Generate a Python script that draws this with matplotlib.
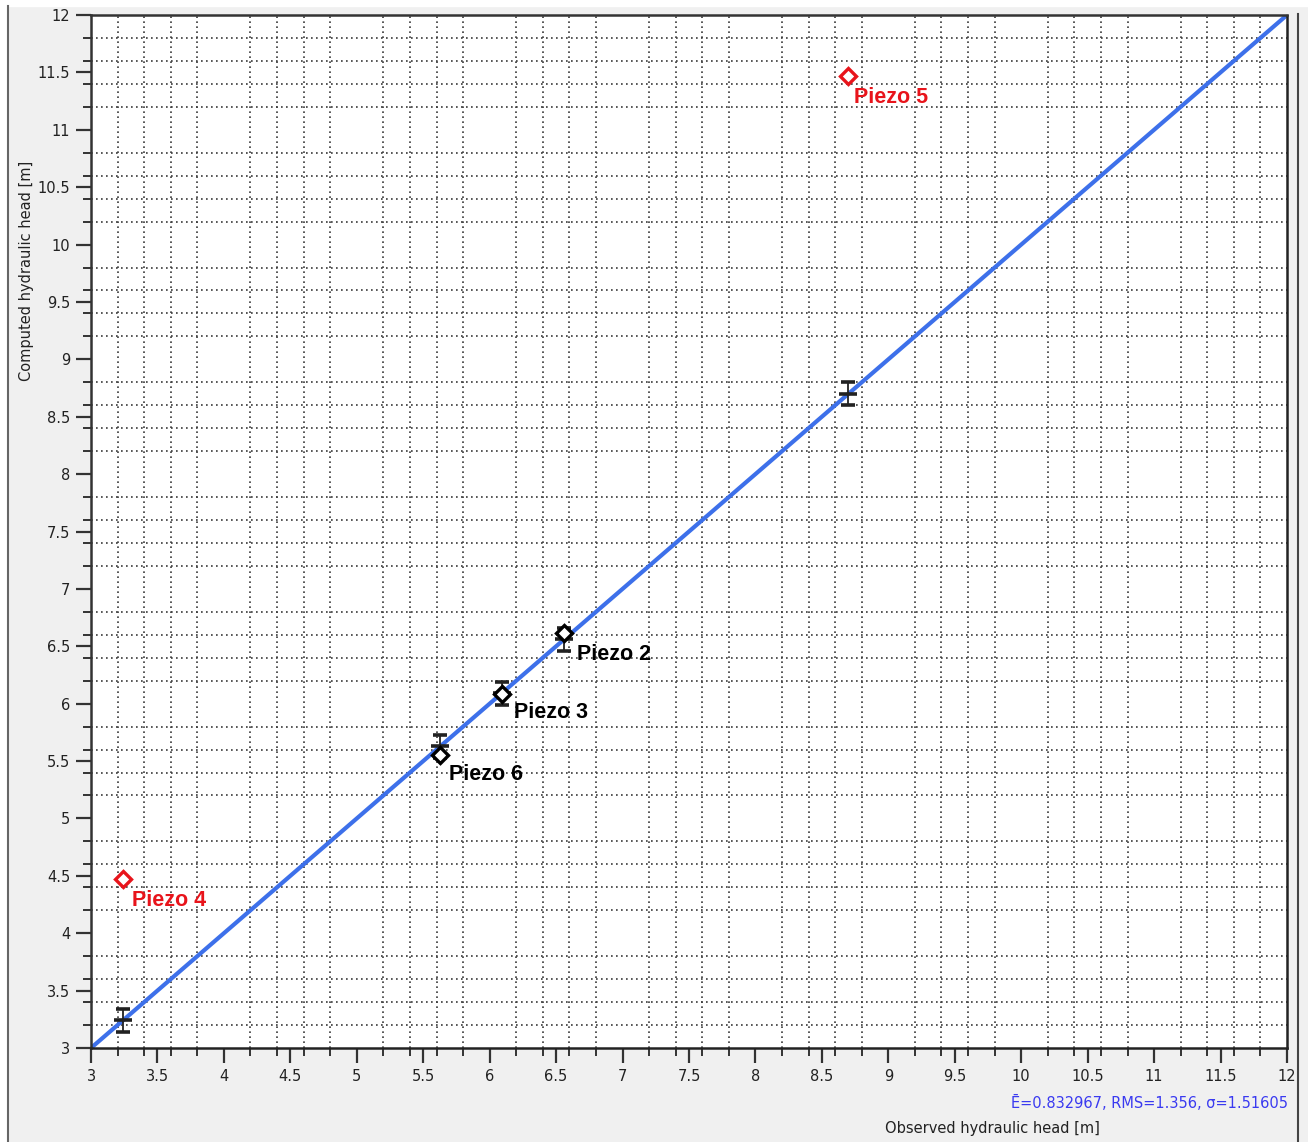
import numpy as np
import matplotlib
matplotlib.use('Agg')
import matplotlib.pyplot as plt
from matplotlib.patches import Rectangle
from matplotlib.lines import Line2D

# observed values with measurement error bars (sit on the 1:1 line)
obs_x = [3.24, 5.63, 6.09, 6.56, 8.70]
obs_err = [0.1, 0.1, 0.1, 0.1, 0.1]

# computed heads per piezometer
piezo_names = ['Piezo 2', 'Piezo 3', 'Piezo 6', 'Piezo 5', 'Piezo 4']
piezo_obs = [6.56, 6.09, 5.63, 8.70, 3.24]
piezo_calc = [6.62, 6.08, 5.55, 11.47, 4.47]
piezo_color = ['black', 'black', 'black', '#e8141b', '#e8141b']
# label offsets in points (style only)
label_dx = [9.4, 8.6, 5.8, 4.3, 6.5]
label_dy = [-15.8, -13.0, -13.6, -15.8, -15.0]

stats_text = 'Ē=0.832967, RMS=1.356, σ=1.51605'

W, H = 1308, 1142
fig = plt.figure(figsize=(W / 100, H / 100), dpi=100, facecolor='#f0f0f0')
# white strips at the very edge of the screenshot
fig.patches.append(Rectangle((0, 0), 8 / W, 1, transform=fig.transFigure, color='white', zorder=0))
fig.patches.append(Rectangle((0, 1 - 6 / H), 1, 6 / H, transform=fig.transFigure, color='white', zorder=0))
fig.lines.append(Line2D([8 / W, 8 / W], [0, 1 - 6 / H], transform=fig.transFigure, color='#666666', lw=1.5))
fig.lines.append(Line2D([1298 / W, 1298 / W], [0, 1 - 14 / H], transform=fig.transFigure, color='#444444', lw=1.5))

ax = fig.add_axes([91 / W, 94 / H, (1287 - 91) / W, (1048 - 15) / H])
ax.set_facecolor('white')
ax.set_xlim(3, 12)
ax.set_ylim(3, 12)

ticks = np.arange(3, 12.01, 0.5)
minor = np.arange(3, 12.01, 0.2)
ax.set_xticks(ticks)
ax.set_yticks(ticks)
ax.set_xticks(minor, minor=True)
ax.set_yticks(minor, minor=True)
labels = [('%g' % t) for t in ticks]
ax.set_xticklabels(labels)
ax.set_yticklabels(labels)
ax.tick_params(which='major', length=11, width=1.6, color='#333333', labelsize=10.5, labelcolor='#222222', pad=4)
ax.tick_params(which='minor', length=6, width=1.4, color='#333333')
ax.grid(which='minor', color='#3a3a3a', linestyle=(0, (1, 2)), lw=1.2)
ax.set_axisbelow(True)

for s in ['top', 'left']:
    ax.spines[s].set_color('#333333')
    ax.spines[s].set_linewidth(1.8)
for s in ['right', 'bottom']:
    ax.spines[s].set_color('#222222')
    ax.spines[s].set_linewidth(1.8)
    ax.spines[s].set_linestyle((0, (1, 1)))

# 1:1 line
ax.plot([3, 12], [3, 12], color='#3d70ea', lw=3, solid_capstyle='butt', zorder=2)

# measured values with error bars
ax.errorbar(obs_x, obs_x, yerr=obs_err, fmt='_', color='#222222', ms=13, mew=2.6,
            elinewidth=1.3, capsize=5, capthick=1.3, zorder=3)

for name, x, y, c, dx, dy in zip(piezo_names, piezo_obs, piezo_calc, piezo_color, label_dx, label_dy):
    ax.plot(x, y, marker='D', ms=8, mfc='white', mec=c, mew=2.4, linestyle='none', zorder=4)
    ax.annotate(name, (x, y), xytext=(dx, dy), textcoords='offset points',
                color=c, fontsize=15.5, fontweight='bold', family='Liberation Sans',
                va='center', ha='left', zorder=5)

fig.text(27 / W, 1 - 271 / H, 'Computed hydraulic head [m]', rotation=90,
         ha='center', va='center', fontsize=10.5, color='#222222')
fig.text(885 / W, 1 - 1129 / H, 'Observed hydraulic head [m]', ha='left', va='center',
         fontsize=10.5, color='#222222')
fig.text(1288 / W, 1 - 1103 / H, stats_text, ha='right', va='center',
         fontsize=10.5, color='#3a3af0')

fig.savefig('out.png', dpi=100, facecolor=fig.get_facecolor())
